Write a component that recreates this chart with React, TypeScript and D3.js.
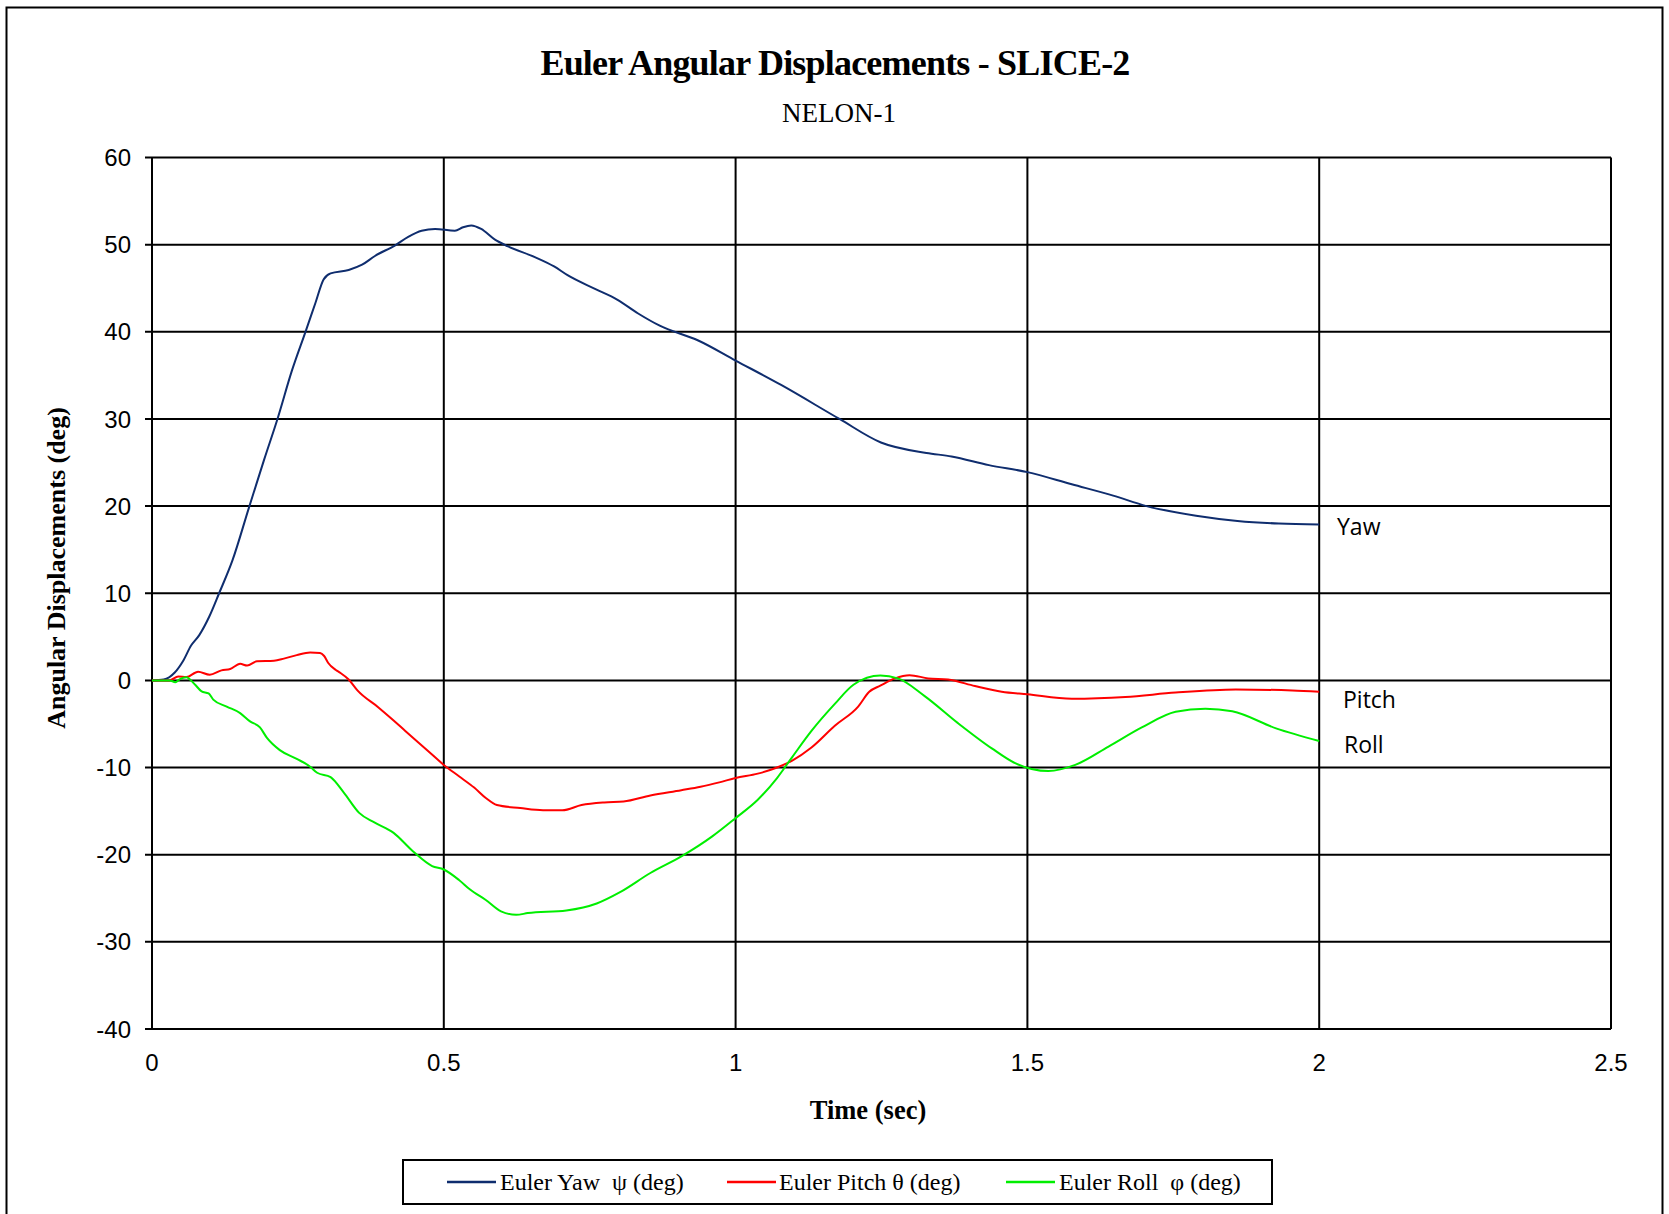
import React from "react";
import * as d3 from "d3";

const W = 1669;
const H = 1214;

const xTicks = [0, 0.5, 1, 1.5, 2, 2.5];
const yTicks = [60, 50, 40, 30, 20, 10, 0, -10, -20, -30, -40];

const yawData: [number, number][] = [
  [0, 0], [0.02, 0.1], [0.039, 0.9], [0.053, 2.2], [0.067, 4.0], [0.081, 5.2], [0.098, 7.3],
  [0.115, 10.0], [0.138, 13.8], [0.166, 19.8], [0.192, 25.3], [0.215, 30.0], [0.24, 35.6],
  [0.263, 40.0], [0.28, 43.3], [0.294, 46.0], [0.306, 46.7], [0.337, 47.1], [0.36, 47.7],
  [0.382, 48.7], [0.416, 49.9], [0.439, 50.9], [0.462, 51.6], [0.485, 51.8], [0.519, 51.6],
  [0.533, 52.0], [0.547, 52.2], [0.564, 51.8], [0.587, 50.6], [0.61, 49.8], [0.655, 48.6],
  [0.689, 47.5], [0.712, 46.5], [0.76, 44.9], [0.797, 43.7], [0.833, 42.1], [0.87, 40.7],
  [0.936, 39.0], [1.0, 36.7], [1.078, 33.9], [1.178, 30.0], [1.249, 27.3], [1.327, 26.1],
  [1.37, 25.7], [1.434, 24.7], [1.5, 23.9], [1.576, 22.5], [1.647, 21.2], [1.704, 20.0],
  [1.789, 18.9], [1.86, 18.3], [1.931, 18.0], [2.0, 17.9],
];

const pitchData: [number, number][] = [
  [0, 0], [0.03, 0.0], [0.045, 0.46], [0.059, 0.38], [0.079, 1.0], [0.099, 0.65], [0.119, 1.15],
  [0.134, 1.3], [0.151, 1.9], [0.163, 1.7], [0.18, 2.2], [0.209, 2.26], [0.226, 2.5],
  [0.248, 2.9], [0.271, 3.2], [0.288, 3.15], [0.295, 2.8], [0.302, 2.0], [0.315, 1.2],
  [0.322, 0.9], [0.337, 0.1], [0.352, -1.15], [0.388, -3.1], [0.414, -4.6], [0.434, -5.8],
  [0.473, -8.1], [0.5, -9.7], [0.526, -11.0], [0.552, -12.3], [0.572, -13.5], [0.591, -14.3],
  [0.631, -14.65], [0.67, -14.9], [0.703, -14.9], [0.736, -14.3], [0.775, -14.0], [0.808, -13.9],
  [0.854, -13.2], [0.907, -12.6], [0.94, -12.2], [0.972, -11.7], [1.0, -11.2], [1.038, -10.7],
  [1.071, -10.0], [1.097, -9.2], [1.13, -7.7], [1.17, -5.2], [1.21, -3.0], [1.229, -1.3],
  [1.248, -0.6], [1.273, 0.23], [1.298, 0.6], [1.33, 0.23], [1.364, 0.1], [1.41, -0.65],
  [1.456, -1.3], [1.5, -1.6], [1.576, -2.1], [1.668, -1.9], [1.754, -1.4], [1.857, -1.05],
  [1.954, -1.15], [2.0, -1.3],
];

const rollData: [number, number][] = [
  [0, 0], [0.03, 0.0], [0.04, -0.2], [0.048, 0.15], [0.059, 0.35], [0.065, 0.1], [0.074, -0.5],
  [0.085, -1.26], [0.097, -1.5], [0.105, -2.2], [0.128, -3.0], [0.151, -3.75], [0.168, -4.7],
  [0.185, -5.4], [0.197, -6.6], [0.219, -8.0], [0.248, -9.0], [0.271, -9.9], [0.283, -10.6],
  [0.306, -11.1], [0.329, -12.9], [0.355, -15.2], [0.381, -16.3], [0.414, -17.5], [0.447, -19.6],
  [0.48, -21.3], [0.5, -21.7], [0.526, -22.9], [0.545, -24.0], [0.572, -25.2], [0.598, -26.5],
  [0.624, -26.9], [0.644, -26.7], [0.71, -26.4], [0.762, -25.6], [0.802, -24.3], [0.854, -22.1],
  [0.907, -20.2], [0.96, -17.9], [1.0, -15.8], [1.038, -13.7], [1.071, -11.2], [1.097, -8.8],
  [1.13, -5.8], [1.17, -2.7], [1.202, -0.5], [1.248, 0.55], [1.278, 0.23], [1.324, -1.8],
  [1.381, -4.9], [1.439, -7.8], [1.479, -9.5], [1.536, -10.4], [1.582, -9.7], [1.639, -7.6],
  [1.696, -5.4], [1.754, -3.6], [1.805, -3.25], [1.851, -3.55], [1.926, -5.5], [2.0, -6.95],
];

const seriesNames = ["Euler Yaw  \u03C8 (deg)", "Euler Pitch \u03B8 (deg)", "Euler Roll  \u03C6 (deg)"];
const endLabels = ["Yaw", "Pitch", "Roll"];
const colors = ["#0f2d6e", "#ff0000", "#00ee00"];

const M = { left: 152, right: 1611, top: 157.5, bottom: 1029 };

export default function App() {
  const x = d3.scaleLinear().domain([0, 2.5]).range([M.left, M.right]);
  const y = d3.scaleLinear().domain([-40, 60]).range([M.bottom, M.top]);
  const line = d3
    .line<[number, number]>()
    .x((d) => x(d[0]))
    .y((d) => y(d[1]))
    .curve(d3.curveMonotoneX);

  const allSeries = [yawData, pitchData, rollData];
  const labelPos = [
    { x: 1337, y: 527 },
    { x: 1343, y: 700 },
    { x: 1344, y: 745 },
  ];
  const legendItems = [
    { lx: 447, tx: 500 },
    { lx: 727, tx: 779 },
    { lx: 1006, tx: 1059 },
  ];

  return (
    <svg
      width={W}
      height={H}
      style={{ position: "absolute", left: 0, top: 0, background: "#fff" }}
    >
      <rect x={0} y={0} width={W} height={H} fill="#fff" />
      <rect x={6.5} y={7.5} width={1656} height={1210} fill="none" stroke="#000" strokeWidth={2} />

      <text
        x={835}
        y={75}
        textAnchor="middle"
        fontFamily="'Liberation Serif', 'Times New Roman', serif"
        fontWeight="bold"
        fontSize={36}
        letterSpacing={-0.8}
      >
        Euler Angular Displacements - SLICE-2
      </text>
      <text
        x={839}
        y={122}
        textAnchor="middle"
        fontFamily="'Liberation Serif', 'Times New Roman', serif"
        fontSize={27}
      >
        NELON-1
      </text>

      {/* grid */}
      {yTicks.map((t) => (
        <line key={"gy" + t} x1={M.left - 7} x2={M.right} y1={y(t)} y2={y(t)} stroke="#000" strokeWidth={2} />
      ))}
      {xTicks.map((t) => (
        <line key={"gx" + t} x1={x(t)} x2={x(t)} y1={M.top} y2={M.bottom} stroke="#000" strokeWidth={2} />
      ))}

      {yTicks.map((t) => (
        <text
          key={"ty" + t}
          x={131}
          y={y(t)}
          dy="0.36em"
          textAnchor="end"
          fontFamily="'Liberation Sans', Arial, sans-serif"
          fontSize={24}
        >
          {t}
        </text>
      ))}
      {xTicks.map((t) => (
        <text
          key={"tx" + t}
          x={x(t)}
          y={1062}
          dy="0.36em"
          textAnchor="middle"
          fontFamily="'Liberation Sans', Arial, sans-serif"
          fontSize={24}
        >
          {t}
        </text>
      ))}

      <text
        transform={`translate(65,568) rotate(-90)`}
        textAnchor="middle"
        fontFamily="'Liberation Serif', 'Times New Roman', serif"
        fontWeight="bold"
        fontSize={26}
      >
        Angular Displacements (deg)
      </text>
      <text
        x={868}
        y={1119}
        textAnchor="middle"
        fontFamily="'Liberation Serif', 'Times New Roman', serif"
        fontWeight="bold"
        fontSize={26.5}
      >
        Time (sec)
      </text>

      {allSeries.map((s, i) => (
        <path key={"s" + i} d={line(s) || ""} fill="none" stroke={colors[i]} strokeWidth={2} />
      ))}

      {endLabels.map((l, i) => (
        <text
          key={"el" + i}
          x={labelPos[i].x}
          y={labelPos[i].y}
          dy="0.36em"
          fontFamily="'Open Sans', 'Noto Sans', sans-serif"
          fontSize={23}
        >
          {l}
        </text>
      ))}

      {/* legend */}
      <rect x={403} y={1160} width={869} height={44} fill="#fff" stroke="#000" strokeWidth={2} />
      {seriesNames.map((n, i) => (
        <g key={"lg" + i}>
          <line
            x1={legendItems[i].lx}
            x2={legendItems[i].lx + 49}
            y1={1182}
            y2={1182}
            stroke={colors[i]}
            strokeWidth={2.5}
          />
          <text
            x={legendItems[i].tx}
            y={1182}
            dy="0.35em"
            fontFamily="'Liberation Serif', 'Times New Roman', serif"
            fontSize={24}
            style={{ whiteSpace: "pre" }}
          >
            {n}
          </text>
        </g>
      ))}
    </svg>
  );
}
